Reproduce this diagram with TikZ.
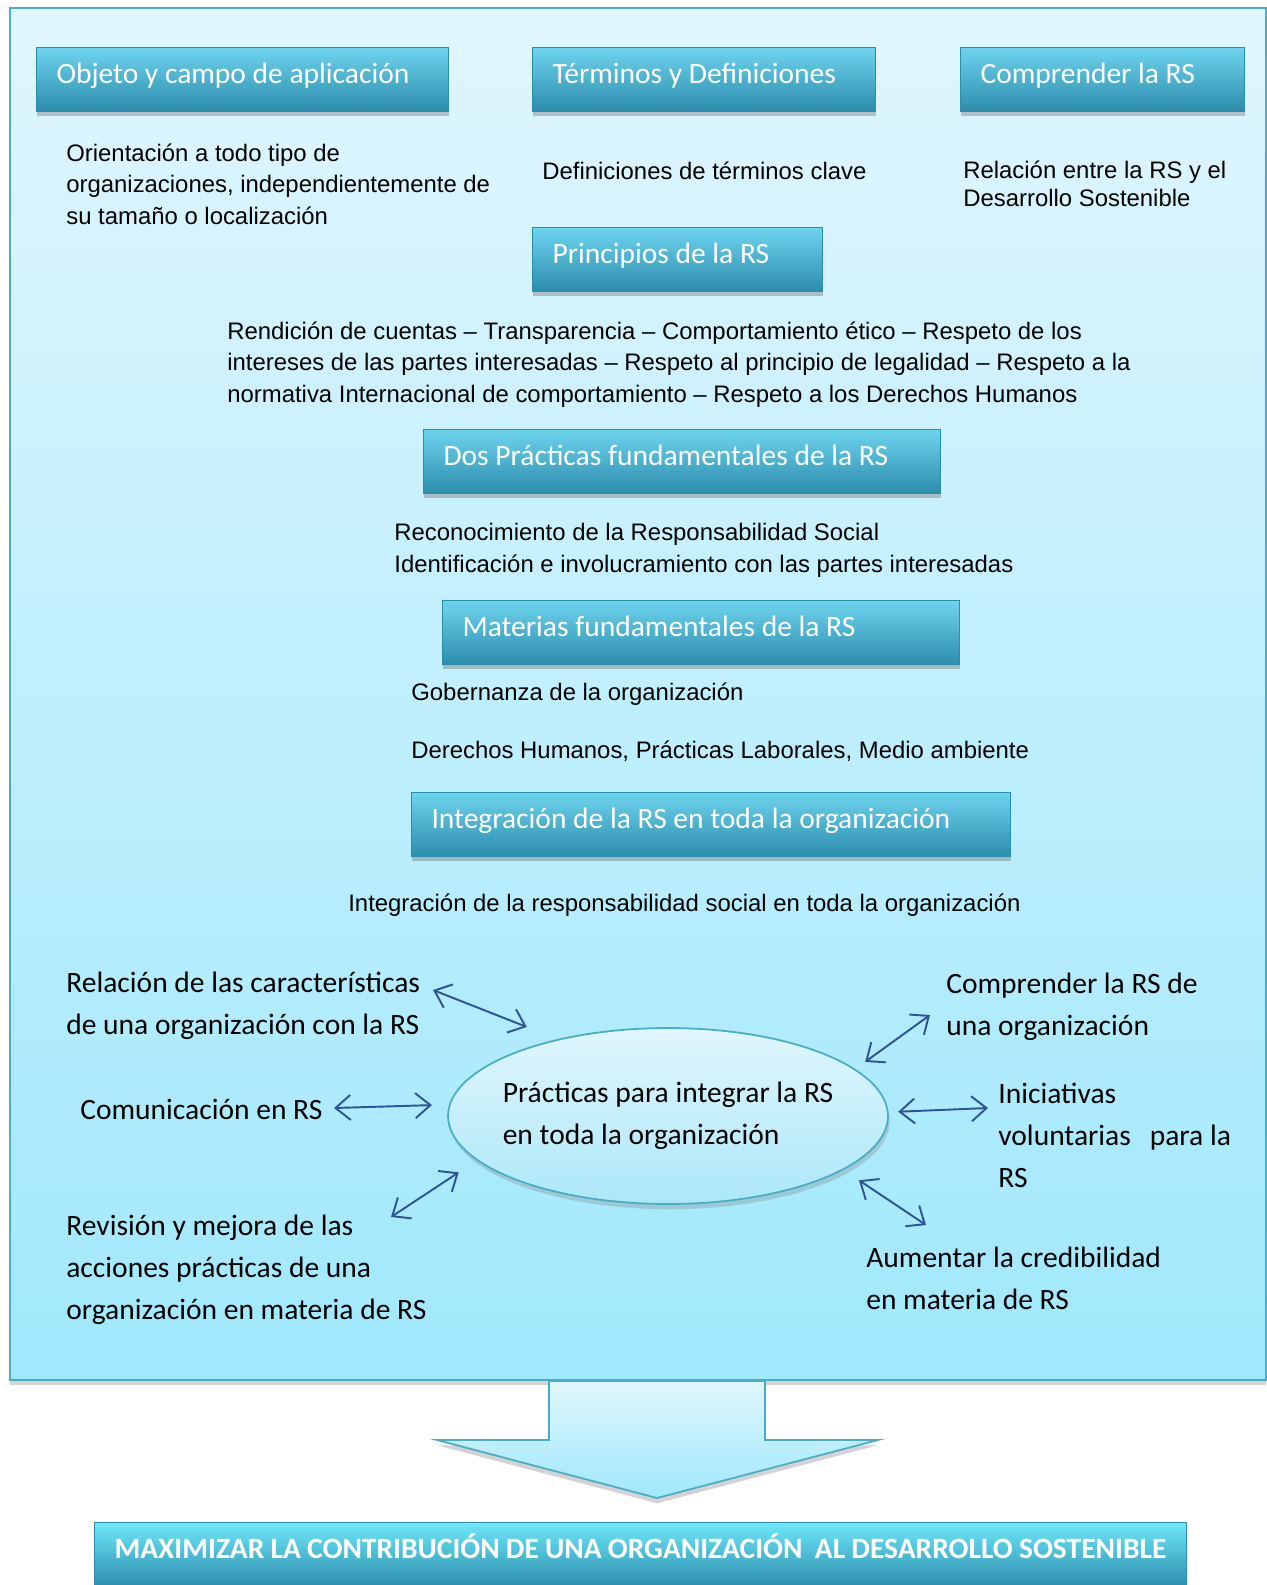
\documentclass[tikz,border=0pt]{standalone}
\usepackage{fontspec}
\setmainfont{Liberation Sans}
\newfontfamily\calibri{Carlito}
\usetikzlibrary{shapes.geometric,arrows.meta,shadows}

\definecolor{rsteal}{RGB}{75,172,198}
\definecolor{rsframetop}{RGB}{224,246,253}
\definecolor{rsframebot}{RGB}{160,232,252}
\definecolor{rsboxtop}{RGB}{110,212,238}
\definecolor{rsboxmid}{RGB}{60,178,212}
\definecolor{rsboxbot}{RGB}{44,140,172}
\definecolor{rsgoaltop}{RGB}{110,232,250}
\definecolor{rsellbot}{RGB}{172,232,248}
\definecolor{rsarrow}{RGB}{47,84,150}

\begin{document}
\begin{tikzpicture}[x=0.02cm, y=-0.02cm,
  >={Straight Barb[length=0.3cm, width=0.5cm]},
  rsbox/.style={rectangle, anchor=north west, minimum height=1.28cm,
    inner xsep=0.4cm, inner ysep=0pt, text width=#1, align=flush left,
    text=white, font=\calibri\fontsize{16.8}{20}\selectfont,
    text height=10pt, text depth=5pt,
    top color=rsboxtop, middle color=rsboxmid, bottom color=rsboxbot,
    draw=rsboxbot, line width=0.6pt,
    drop shadow={shadow xshift=0.4pt, shadow yshift=-2.5pt, opacity=0.45}},
  bodytext/.style={anchor=base west, align=left, inner sep=0pt,
    font=\fontsize{13.6}{17.9}\selectfont},
  captext/.style={anchor=base west, align=left, inner sep=0pt,
    font=\calibri\fontsize{16.8}{23.8}\selectfont},
  rslink/.style={<->, draw=rsarrow, line width=1.1pt}]

\useasboundingbox (0,0) rectangle (1267,1585);

\path[draw=rsteal, line width=1.2pt, top color=rsframetop, bottom color=rsframebot,
  drop shadow={shadow xshift=0pt, shadow yshift=-3pt, opacity=0.35}]
  (10,8) rectangle (1266,1380);

\path[draw=rsteal, line width=1pt, top color=rsframetop, bottom color=rsframebot,
  drop shadow={shadow xshift=0pt, shadow yshift=-3pt, opacity=0.35}]
  (549,1381) -- (765,1381) -- (765,1440) -- (878,1440) -- (657,1498)
  -- (437,1440) -- (549,1440) -- cycle;

\node (objeto) at (36,47) [rsbox=7.44cm] {Objeto y campo de aplicación};
\node (terminos) at (532,47) [rsbox=6.06cm] {Términos y Definiciones};
\node (comprender) at (960,47) [rsbox=4.88cm] {Comprender la RS};
\node (principios) at (532,227) [rsbox=5cm] {Principios de la RS};
\node (practicas) at (423,429) [rsbox=9.54cm] {Dos Prácticas fundamentales de la RS};
\node (materias) at (442,600) [rsbox=9.54cm] {Materias fundamentales de la RS};
\node (integracion) at (411,792) [rsbox=11.18cm] {Integración de la RS en toda la organización};

% base anchor sits on the last line
\node (orient) at (66,224) [bodytext] {Orientación a todo tipo de\\organizaciones, independientemente de\\su tamaño o localización};
\node (defin) at (542,179) [bodytext] {Definiciones de términos clave};
\node (relrs) at (963,206) [bodytext, font=\fontsize{13.6}{15.5}\selectfont] {Relación entre la RS y el\\Desarrollo Sostenible};
\node (princtxt) at (227,402) [bodytext] {Rendición de cuentas – Transparencia – Comportamiento ético – Respeto de los\\intereses de las partes interesadas – Respeto al principio de legalidad – Respeto a la\\normativa Internacional de comportamiento – Respeto a los Derechos Humanos};
\node (dostxt) at (394,572) [bodytext] {Reconocimiento de la Responsabilidad Social\\Identificación e involucramiento con las partes interesadas};
\node (gob) at (411,700) [bodytext] {Gobernanza de la organización};
\node (derechos) at (411,758) [bodytext] {Derechos Humanos, Prácticas Laborales, Medio ambiente};
\node (integtxt) at (348,911) [bodytext] {Integración de la responsabilidad social en toda la organización};

\node (prac) at (668,1116) [ellipse, minimum width=8.8cm, minimum height=3.52cm,
  inner sep=0pt, outer sep=0pt, draw=rsteal, line width=1pt,
  top color=rsframetop, bottom color=rsellbot,
  drop shadow={shadow xshift=1pt, shadow yshift=-3pt, opacity=0.3}] {};
\node (practxt) at (668,1116) [align=left, inner sep=0pt, font=\calibri\fontsize{16.8}{23.8}\selectfont]
  {Prácticas para integrar la RS\\en toda la organización};

\node (relcar) at (66,1034) [captext] {Relación de las características\\de una organización con la RS};
\node (comun) at (80,1119) [captext] {Comunicación en RS};
\node (revision) at (66,1319) [captext] {Revisión y mejora de las\\acciones prácticas de una\\organización en materia de RS};
\node (comporg) at (946,1035) [captext] {Comprender la RS de\\una organización};
\node (inicia) at (998,1187) [captext] {Iniciativas\\voluntarias\hspace{0.38cm}para la\\RS};
\node (aumentar) at (866,1309) [captext] {Aumentar la credibilidad\\en materia de RS};

\coordinate (relA) at (433,990);
\coordinate (comA) at (334,1108);
\coordinate (revA) at (391,1217);
\coordinate (compA) at (930,1015);
\coordinate (iniA) at (988,1108);
\coordinate (aumA) at (926,1225);

\draw[rslink, shorten >=0.69cm] (relA) -- (prac.145.6);
\draw[rslink, shorten >=0.36cm] (comA) -- (prac.177.9);
\draw[rslink, shorten >=0.45cm] (revA) -- (prac.193.4);
\draw[rslink, shorten >=0.26cm] (compA) -- (prac.14.9);
\draw[rslink, shorten >=0.21cm] (iniA) -- (prac.1.8);
\draw[rslink, shorten >=0.39cm] (aumA) -- (prac.343.9);

\node (maximizar) at (94,1522) [rsbox=21.04cm, align=flush center, top color=rsgoaltop,
  font=\calibri\bfseries\fontsize{16.8}{20}\selectfont]
  {MAXIMIZAR LA CONTRIBUCIÓN DE UNA ORGANIZACIÓN\ \ AL DESARROLLO SOSTENIBLE};
\end{tikzpicture}
\end{document}
